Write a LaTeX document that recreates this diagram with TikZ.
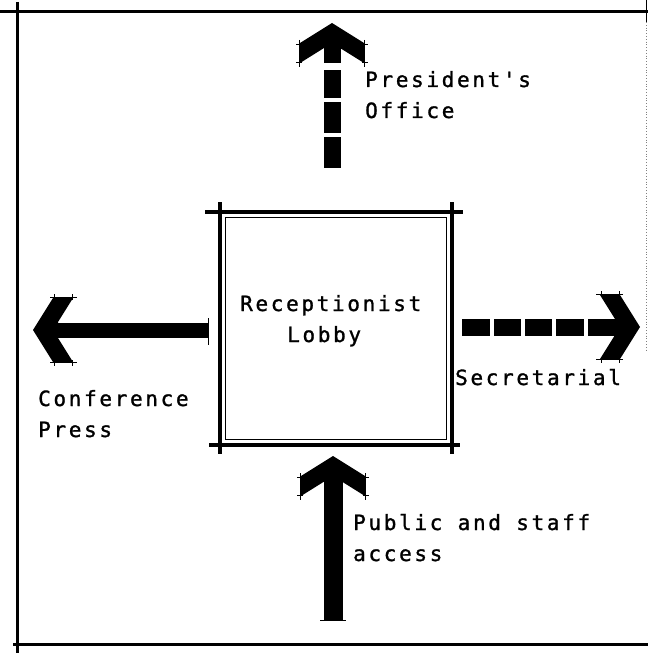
\documentclass[tikz,border=0pt]{standalone}
\usepackage{fontspec}
\newfontfamily\twfont[LetterSpace=12.7,FakeBold=1.2]{DejaVu Sans Mono}
\begin{document}
\begin{tikzpicture}[x=1pt,y=-1pt,
  lbl/.style={font=\twfont\fontsize{21}{31}\selectfont, inner sep=0pt, anchor=base west, align=left},
  framel/.style={line width=3pt},
  wallthick/.style={line width=3.8pt},
  wallthin/.style={line width=1.3pt},
  nib/.style={line width=0.9pt}]
\useasboundingbox (0,0) rectangle (648,655);
\fill[white] (0,0) rectangle (648,655);

% frame
\draw[framel] (0,12) -- (648,12);
\draw[framel] (17.5,2) -- (17.5,653);
\draw[framel] (13,644) -- (648,644);
\draw[line width=1.4pt] (646.5,0) -- (646.5,22);
\draw[line width=0.8pt, gray, dotted] (646.5,22) -- (646.5,350);

% lobby (double wall)
\node[draw=none, minimum width=232pt, minimum height=233pt, inner sep=0pt] (lobby) at (336,328.5) {};
\draw[wallthick] (205,212) -- (463,212);
\draw[wallthick] (209,445) -- (460,445);
\draw[wallthick] (220,202) -- (220,454);
\draw[wallthick] (452,202) -- (452,454);
\draw[wallthin] (225.5,217.5) rectangle (446.5,439.5);

\node[lbl] (lobbytxt) at (240,342) {Receptionist\\\hspace*{47pt}Lobby};

% labels (base anchor = baseline of last line)
\node[lbl] (pres) at (365,118) {President's\\Office};
\node[lbl] (conf) at (38,437) {Conference\\Press};
\node[lbl] (secr) at (455,385) {Secretarial};
\node[lbl] (pub) at (353,561) {Public and staff\\access};

% arrow tips
\coordinate (tipU) at (332,23);
\coordinate (tipL) at (33,330);
\coordinate (tipR) at (640,327);
\coordinate (tipB) at (333,456);

% generic head in local (u forward, v lateral) coordinates
\newcommand\drawhead{%
  \fill (0,0) -- (-20,32) -- (-40,32) -- (-25,8) -- (-25,-8) -- (-40,-32) -- (-20,-32) -- cycle;
  \draw[nib] (-17,32.5) -- (-44,32.5) (-17,-32.5) -- (-44,-32.5);
  \draw[nib] (-21,30) -- (-21,36) (-39,30) -- (-39,36)
             (-21,-30) -- (-21,-36) (-39,-30) -- (-39,-36);
}

% President's Office arrow (up, dashed shaft)
\begin{scope}[shift={(tipU)}, x={(0pt,1pt)}, y={(1pt,0pt)}]
  \drawhead
\end{scope}
\fill (323.5,45) rectangle (340.5,63);
\fill (323.5,70) rectangle (340.5,98);
\fill (323.5,102) rectangle (340.5,133);
\fill (323.5,137) rectangle (340.5,168);

% Conference Press arrow (left, solid)
\begin{scope}[shift={(tipL)}, x={(-1pt,0pt)}, y={(0pt,1pt)}]
  \drawhead
\end{scope}
\coordinate (tailL) at (208,330.5);
\fill (55,323) rectangle (tailL |- 0,338);
\draw[nib] (208,318) -- (208,345);

% Secretarial arrow (right, dashed)
\begin{scope}[shift={(tipR)}, x={(1pt,0pt)}, y={(0pt,1pt)}]
  \drawhead
\end{scope}
\foreach \a/\b in {462/490,494/521,525/552,556/584,588/617}{
  \fill (\a,318.5) rectangle (\b,335.5);
}

% Public and staff access arrow (up, solid)
\begin{scope}[shift={(tipB)}, x={(0pt,1pt)}, y={(1pt,0pt)}]
  \drawhead
\end{scope}
\coordinate (tailB) at (333,620);
\fill (323.5,478) rectangle (342.5,620);
\draw[nib] (320,620) -- (346,620);
\end{tikzpicture}
\end{document}
